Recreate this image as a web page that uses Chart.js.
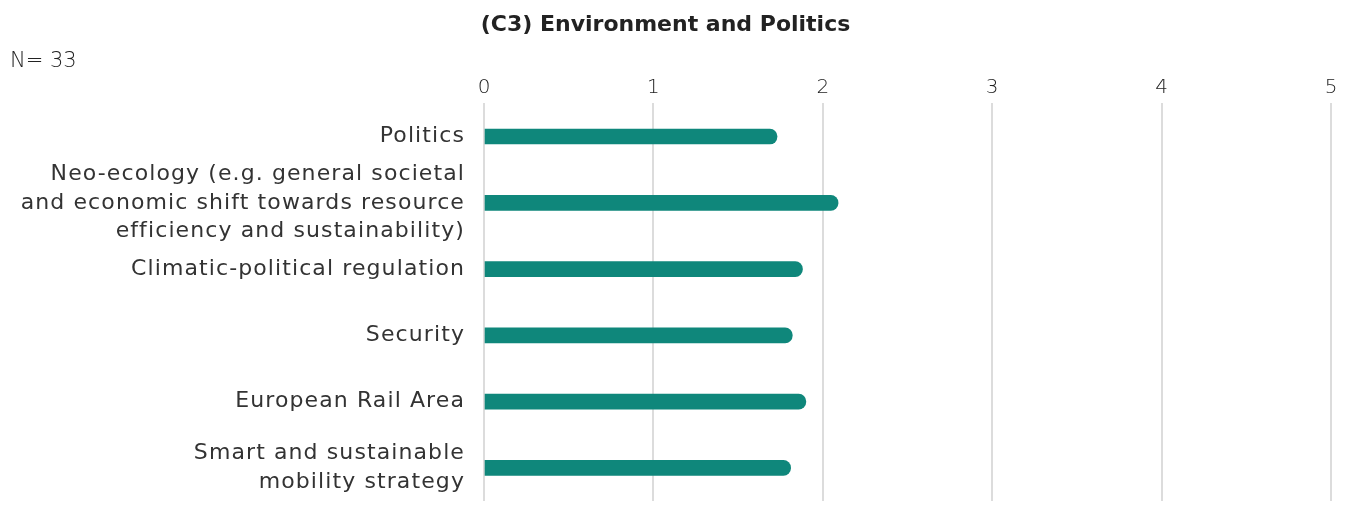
<!DOCTYPE html>
<html>
<head>
<meta charset="utf-8">
<script src="https://cdn.jsdelivr.net/npm/chart.js@4.4.1/dist/chart.umd.min.js"></script>
<style>
  html,body{margin:0;padding:0;background:#fff;}
  #wrap{position:relative;width:1357px;height:506px;}
  #nNote{position:absolute;left:10px;top:48px;font:300 21px "DejaVu Sans",sans-serif;color:#222;}
</style>
</head>
<body>
<div id="wrap">
  <canvas id="chart" width="1357" height="506"></canvas>
  <div id="nNote">N= 33</div>
</div>
<script>
/* ---------- data ---------- */
const titleText = '(C3) Environment and Politics';
const categories = [
  ['Politics'],
  ['Neo-ecology (e.g. general societal','and economic shift towards resource','efficiency and sustainability)'],
  ['Climatic-political regulation'],
  ['Security'],
  ['European Rail Area'],
  ['Smart and sustainable','mobility strategy']
];
const meanValues = [1.73, 2.09, 1.88, 1.82, 1.90, 1.81];
const xTicks = [0, 1, 2, 3, 4, 5];

/* ---------- style ---------- */
const teal = '#0f877b';
const font = '"DejaVu Sans", sans-serif';

// wider category labels (the original uses a wide geometric face)
function spaceLabels(s){
  if (s._spaced) return;
  const orig = s.drawLabels.bind(s);
  s.drawLabels = area => { s.ctx.save(); s.ctx.letterSpacing = '1.1px'; orig(area); s.ctx.restore(); };
  s._spaced = true;
}

new Chart(document.getElementById('chart'), {
  type: 'bar',
  data: {
    labels: categories,
    datasets: [{
      data: meanValues,
      backgroundColor: teal,
      borderRadius: 8,
      barThickness: 15
    }]
  },
  options: {
    indexAxis: 'y',
    responsive: false,
    animation: false,
    layout: {padding: {top: 12, right: 26, bottom: 5, left: 0}},
    plugins: {
      legend: {display: false},
      tooltip: {enabled: false},
      title: {
        display: true, text: titleText, color: '#222',
        font: {family: font, size: 22, weight: 'bold'},
        padding: {top: 0, bottom: 33}
      }
    },
    scales: {
      x: {
        position: 'top', min: 0, max: 5,
        afterBuildTicks: s => { s.ticks = xTicks.map(v => ({value: v})); },
        ticks: {color: '#222', font: {family: font, size: 20, weight: 300}, padding: 4},
        grid: {color: '#dcdcdc', lineWidth: 2, drawTicks: false},
        border: {display: false}
      },
      y: {
        afterFit: s => { s.width = 484; s.paddingTop = 0; s.paddingBottom = 0; spaceLabels(s); },
        ticks: {autoSkip: false, color: '#333', font: {family: font, size: 22, weight: 'normal', lineHeight: 1.3}, padding: 19},
        grid: {display: false, drawTicks: false},
        border: {display: false}
      }
    }
  }
});
</script>
</body>
</html>
